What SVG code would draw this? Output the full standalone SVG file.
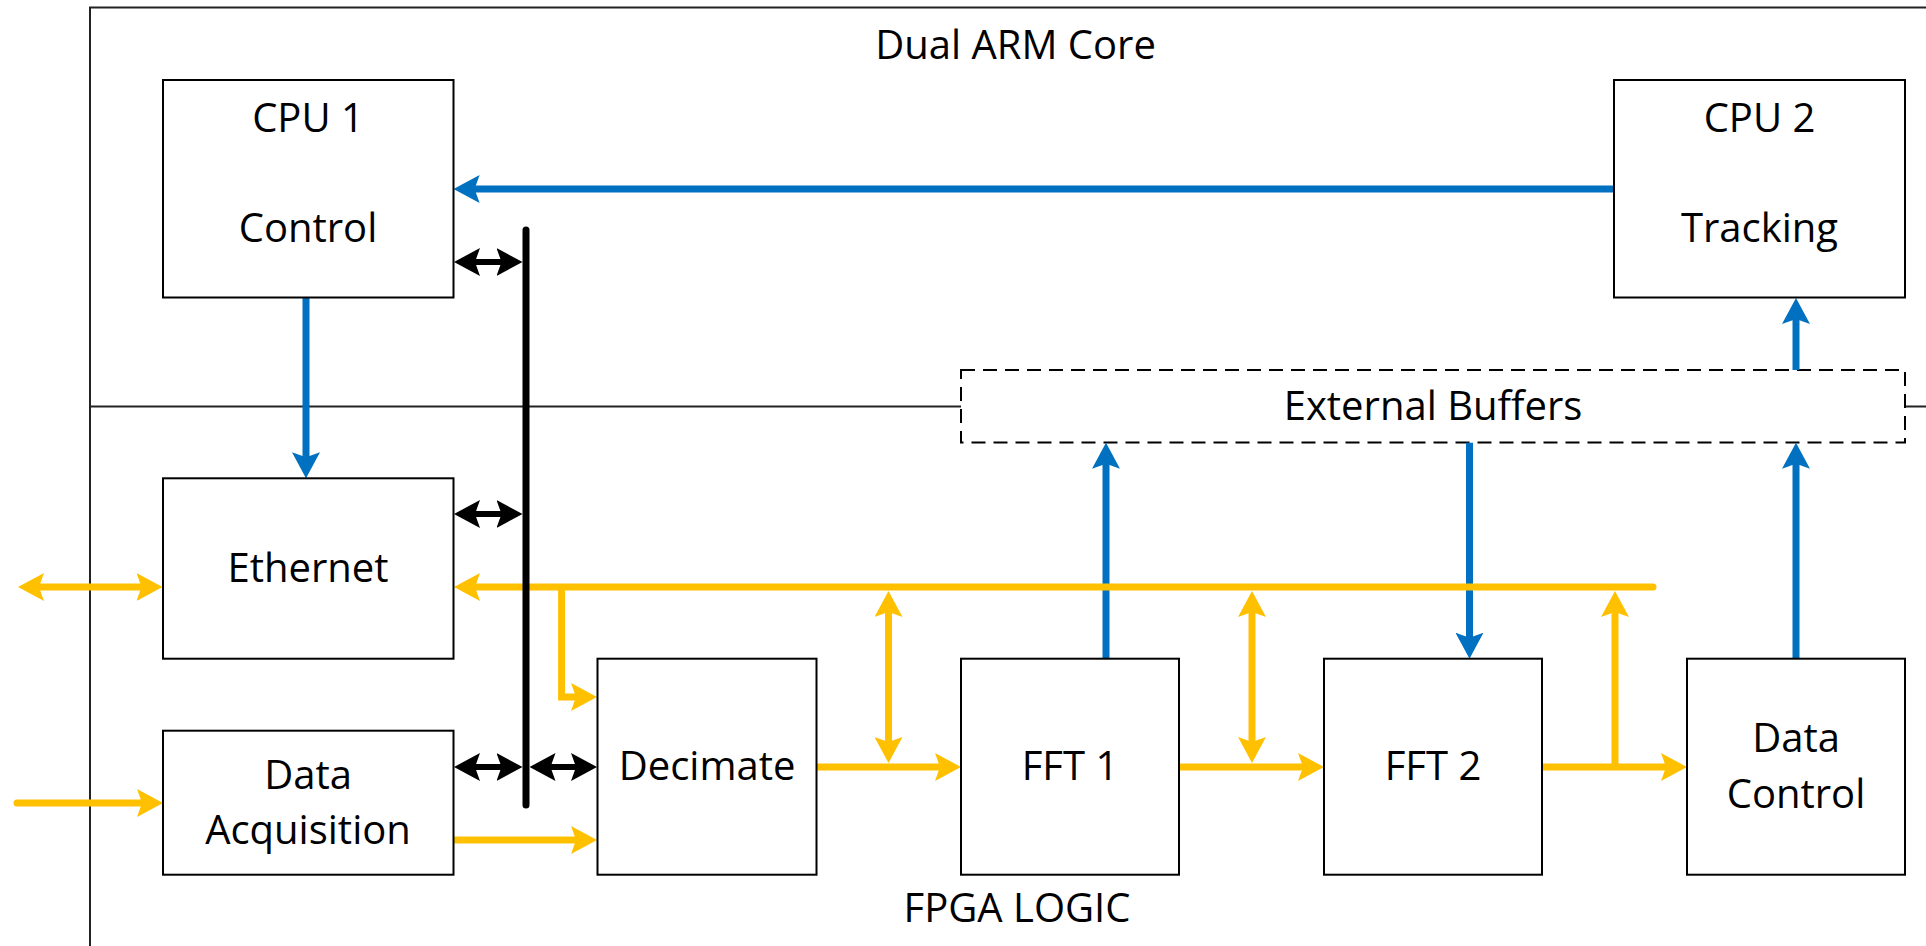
<svg xmlns="http://www.w3.org/2000/svg" width="1926" height="946" viewBox="0 0 1926 946">
  <style>
    .frame { fill: none; stroke: #222; stroke-width: 2; }
    .box { fill: #fff; stroke: #000; stroke-width: 2; }
    .dashed { fill: #fff; stroke: #000; stroke-width: 2; stroke-dasharray: 14 8; }
    .lbl { font-family: "Open Sans", "Noto Sans", "Liberation Sans", sans-serif; font-size: 40px; fill: #000; text-anchor: middle; }
    .blue { fill: none; stroke: #0070C0; stroke-width: 7; marker-end: url(#ah-b); }
    .yel { fill: none; stroke: #FFC000; stroke-width: 7; marker-end: url(#ah-y); }
    .yel2 { fill: none; stroke: #FFC000; stroke-width: 7; marker-start: url(#ah-y); marker-end: url(#ah-y); }
    .blk2 { fill: none; stroke: #000; stroke-width: 6; marker-start: url(#ah-k); marker-end: url(#ah-k); }
  </style>
  <defs>
    <marker id="ah-b" viewBox="0 0 26 28" refX="7" refY="14" markerWidth="26" markerHeight="28" markerUnits="userSpaceOnUse" orient="auto-start-reverse">
      <path d="M0,0 L26,14 L0,28 L5,14 Z" fill="#0070C0"/>
    </marker>
    <marker id="ah-y" viewBox="0 0 26 28" refX="7" refY="14" markerWidth="26" markerHeight="28" markerUnits="userSpaceOnUse" orient="auto-start-reverse">
      <path d="M0,0 L26,14 L0,28 L5,14 Z" fill="#FFC000"/>
    </marker>
    <marker id="ah-k" viewBox="0 0 26 28" refX="7" refY="14" markerWidth="26" markerHeight="28" markerUnits="userSpaceOnUse" orient="auto-start-reverse">
      <path d="M0,0 L26,14 L0,28 L5,14 Z" fill="#000"/>
    </marker>
  </defs>

  <rect width="1926" height="946" fill="#fff"/>

  <!-- outer frame and ARM / FPGA divider -->
  <g id="frame">
    <path class="frame" d="M90,960 V7.5 H1940"/>
    <path class="frame" d="M90,406.5 H961 M1905,406.5 H1930"/>
    <text class="lbl" x="1015.5" y="59">Dual ARM Core</text>
    <text class="lbl" x="1017" y="921.5">FPGA LOGIC</text>
  </g>

  <g id="ext-buffers">
    <rect class="dashed" x="961" y="370" width="944" height="72.5"/>
    <text class="lbl" x="1433" y="420">External Buffers</text>
  </g>

  <!-- connectors -->
  <g id="connectors">
    <!-- processor / buffer links -->
    <path class="blue" d="M1614,189 H472.6"/>
    <path class="blue" d="M306,298 V459.3"/>
    <path class="blue" d="M1106,658.7 V461.7"/>
    <path class="blue" d="M1469.5,442.7 V639.7"/>
    <path class="blue" d="M1796,658.7 V461.7"/>
    <path class="blue" d="M1796,370 V317"/>

    <!-- data bus and pipeline -->
    <path class="yel2" d="M37,587 H143.5"/>
    <path class="yel" stroke-linecap="round" d="M1653,587 H473"/>
    <path class="yel" d="M561.6,587 V697 H578"/>
    <path class="yel" stroke-linecap="round" d="M17,803 H144"/>
    <path class="yel" d="M453.6,840 H578"/>
    <path class="yel" d="M816.5,767 H942"/>
    <path class="yel2" d="M888.5,610 V744"/>
    <path class="yel" d="M1179,767 H1305"/>
    <path class="yel2" d="M1252,610 V744"/>
    <path class="yel" d="M1542,767 H1668"/>
    <path class="yel" d="M1615,767 V610"/>

    <!-- control bus -->
    <path fill="none" stroke="#000" stroke-width="7" stroke-linecap="round" d="M526,230 V805"/>
    <path class="blk2" d="M473,262 H503.5"/>
    <path class="blk2" d="M473,514 H503.5"/>
    <path class="blk2" d="M473,767 H503.5"/>
    <path class="blk2" d="M548.5,767 H578"/>
  </g>

  <g id="cpu1">
    <rect class="box" x="163" y="80" width="290.5" height="217.5"/>
    <text class="lbl" x="308" y="132">CPU 1</text>
    <text class="lbl" x="308" y="242">Control</text>
  </g>
  <g id="cpu2">
    <rect class="box" x="1614" y="80" width="291" height="217.5"/>
    <text class="lbl" x="1759.5" y="132">CPU 2</text>
    <text class="lbl" x="1759.5" y="242">Tracking</text>
  </g>
  <g id="ethernet">
    <rect class="box" x="163" y="478.3" width="290.5" height="180.4"/>
    <text class="lbl" x="308" y="582">Ethernet</text>
  </g>
  <g id="data-acquisition">
    <rect class="box" x="163" y="730.7" width="290.5" height="144"/>
    <text class="lbl" x="308" y="789">Data</text>
    <text class="lbl" x="308" y="844">Acquisition</text>
  </g>
  <g id="decimate">
    <rect class="box" x="597.5" y="658.7" width="219" height="216"/>
    <text class="lbl" x="707" y="780">Decimate</text>
  </g>
  <g id="fft1">
    <rect class="box" x="961" y="658.7" width="218" height="216"/>
    <text class="lbl" x="1070" y="780">FFT 1</text>
  </g>
  <g id="fft2">
    <rect class="box" x="1324" y="658.7" width="218" height="216"/>
    <text class="lbl" x="1433" y="780">FFT 2</text>
  </g>
  <g id="data-control">
    <rect class="box" x="1687" y="658.7" width="218" height="216"/>
    <text class="lbl" x="1796" y="752">Data</text>
    <text class="lbl" x="1796" y="808">Control</text>
  </g>
</svg>
